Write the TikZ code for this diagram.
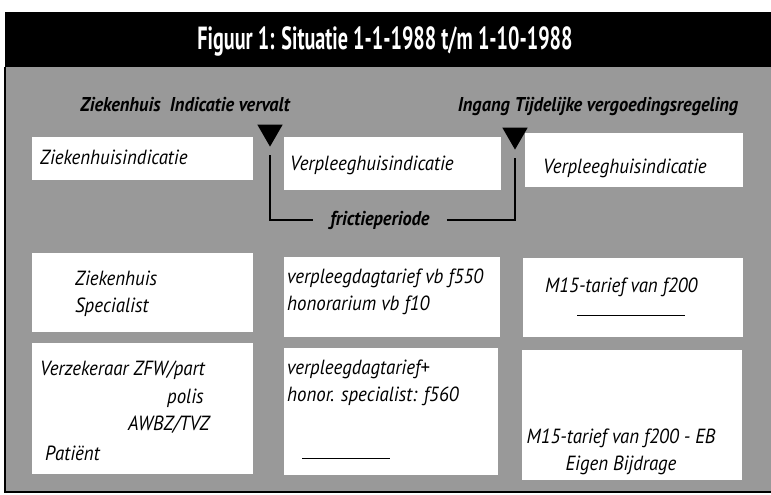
\documentclass[tikz,border=0pt]{standalone}
\usepackage{fontspec}
\setmainfont{PT Sans}
\newfontfamily\smalfont[FakeStretch=0.92]{PT Sans}
\newfontfamily\kopfont[FakeStretch=0.63]{PT Sans}
\usetikzlibrary{shapes.geometric,positioning}

\definecolor{raster}{gray}{0.6}

\tikzset{
  vak/.style={fill=white, inner sep=0pt, anchor=north west},
  tekst/.style={font=\smalfont\fontsize{20.5}{27}\selectfont\itshape, inner sep=0pt, anchor=west, align=left},
  opschrift/.style={font=\smalfont\fontsize{20}{22}\selectfont\bfseries\itshape, inner sep=0pt},
  titel/.style={font=\kopfont\fontsize{32}{36}\selectfont\bfseries, text=white, inner sep=0pt},
  pijl/.style={isosceles triangle, isosceles triangle apex angle=60, shape border rotate=-90,
    fill=black, minimum height=22pt, inner sep=0pt, anchor=apex},
  haak/.style={line width=2.5pt},
  streep/.style={line width=1pt}
}

\begin{document}
\begin{tikzpicture}[x=1pt,y=-1pt]
\useasboundingbox (0,0) rectangle (771,495);

% achtergrond en kop
\fill[black] (5,12) rectangle (771,67);
\fill[raster] (5,67) rectangle (771,492);
\draw[line width=1.2pt] (5,67) -- (5,492) -- (771,492);
\node[titel] (titel) at (385,41) {Figuur 1: Situatie 1-1-1988 t/m 1-10-1988};

% overgangsmomenten
\node[opschrift] (vervalt) at (185,105) {Ziekenhuis \ Indicatie vervalt};
\node[opschrift] (ingang) at (598,107) {Ingang Tijdelijke vergoedingsregeling};
\node[pijl] (t1) at (270,147) {};
\node[pijl] (t2) at (515,150) {};

% rij 1
\node[vak, minimum width=221pt, minimum height=43pt] (zhind) at (32,137) {};
\node[vak, minimum width=217pt, minimum height=53pt] (vpind) at (284,137) {};
\node[vak, minimum width=218pt, minimum height=54pt] (vpind2) at (525,133) {};
\node[tekst] (zhindtxt) at (40,157) {Ziekenhuisindicatie};
\node[tekst] (vpindtxt) at (290,165) {Verpleeghuisindicatie};
\node[tekst] (vpind2txt) at (543,168) {Verpleeghuisindicatie};

% frictieperiode
\node[opschrift, inner xsep=17pt] (frictie) at (380,220) {frictieperiode};
\draw[haak] ([yshift=-8pt]t1.apex) |- (frictie.west);
\draw[haak] (frictie.east) -| ([yshift=-8pt]t2.apex);

% rij 2
\node[vak, minimum width=221pt, minimum height=79pt] (zhspec) at (32,253) {};
\node[vak, minimum width=216pt, minimum height=80pt] (tarief) at (284,257) {};
\node[vak, minimum width=220pt, minimum height=79pt] (mtarief) at (523,258) {};
\node[tekst] (zhspectxt) at (75,294) {Ziekenhuis\\Specialist};
\node[tekst] (tarieftxt) at (287,292) {verpleegdagtarief vb f550\\honorarium vb f10};
\node[tekst] (mtarieftxt) at (545,287) {M15-tarief van f200};
\draw[streep] (577,315) -- (685,315);

% rij 3
\node[vak, minimum width=221pt, minimum height=131pt] (verzekeraar) at (32,343) {};
\node[vak, minimum width=214pt, minimum height=127pt] (totaal) at (284,348) {};
\node[vak, minimum width=220pt, minimum height=130pt] (eigen) at (522,350) {};
\node[tekst] (zfw) at (40,370) {Verzekeraar ZFW/part};
\node[tekst] (polis) at (167,398) {polis};
\node[tekst] (awbz) at (128,425) {AWBZ/TVZ};
\node[tekst] (patient) at (45,453) {Patiënt};
\node[tekst] (totaaltxt) at (287,383) {verpleegdagtarief+\\honor. specialist: f560};
\draw[streep] (302,458) -- (390,458);
\node[tekst, anchor=center, align=center] (eigentxt) at (621,452) {M15-tarief van f200 - EB\\Eigen Bijdrage};

\end{tikzpicture}
\end{document}
